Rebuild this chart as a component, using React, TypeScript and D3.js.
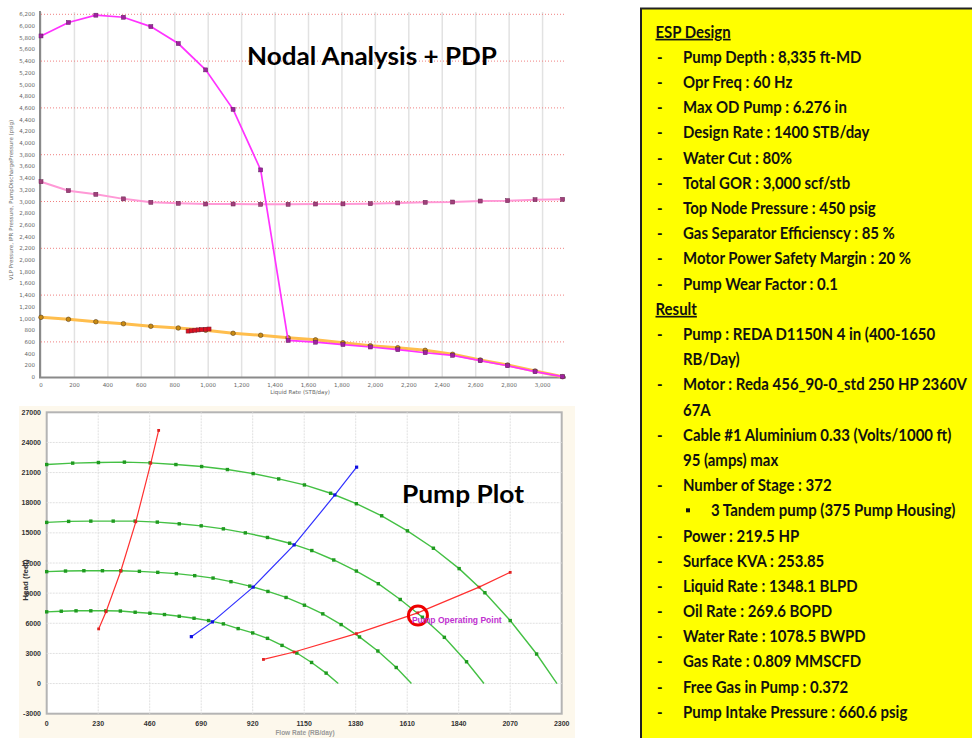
import React from 'react';
import * as d3 from 'd3';

// ---------- Nodal analysis data (Liquid rate STB/day vs pressure psig) ----------
const liquidRates = [0, 164, 328, 493, 657, 821, 985, 1149, 1314, 1478, 1642, 1806, 1970, 2134, 2298, 2462, 2627, 2791, 2955, 3120];
const pumpDischargePressure = [5830, 6060, 6185, 6150, 5990, 5700, 5250, 4575, 3540, 625, 595, 555, 513, 467, 415, 371, 279, 193, 91, 5];
const vlpPressure = [3338, 3185, 3123, 3045, 2986, 2969, 2957, 2957, 2952, 2952, 2957, 2959, 2962, 2975, 2986, 2991, 3008, 3014, 3031, 3037];
const iprPressure = [1020, 986, 945, 911, 867, 838, 800, 747, 713, 672, 635, 586, 535, 501, 456, 388, 291, 205, 103, 5];
const testRates = [880, 900, 920, 940, 960, 985, 1005];
const testPressures = [785, 790, 800, 805, 810, 815, 820];
const nodalXTicks = [0, 200, 400, 600, 800, 1000, 1200, 1400, 1600, 1800, 2000, 2200, 2400, 2600, 2800, 3000];
const nodalRedGrid = [600, 1400, 2200, 3000, 3800, 4600, 5400, 6200];

// ---------- Pump plot data (Rate RB/day vs Head ft) ----------
const headQ1 = [0, 116, 231, 347, 462, 577, 692, 807, 922, 1036, 1151, 1268, 1383, 1496, 1611, 1727, 1842, 1957, 2070, 2188, 2279];
const headH1 = [21800, 21940, 22000, 22040, 21970, 21800, 21600, 21300, 20900, 20370, 19770, 18940, 17900, 16700, 15200, 13470, 11440, 9040, 6270, 2940, 0];
const headQ2 = [0, 98, 197, 297, 395, 494, 592, 690, 789, 887, 986, 1085, 1184, 1282, 1383, 1481, 1579, 1678, 1776, 1875, 1953];
const headH2 = [16040, 16140, 16170, 16170, 16170, 16070, 15900, 15700, 15400, 15000, 14540, 13970, 13240, 12300, 11200, 9940, 8370, 6600, 4600, 2170, 0];
const headQ3 = [0, 84, 166, 249, 331, 414, 496, 579, 661, 743, 823, 907, 988, 1069, 1151, 1233, 1315, 1397, 1479, 1561, 1629];
const headH3 = [11140, 11200, 11230, 11230, 11230, 11170, 11070, 10940, 10740, 10500, 10140, 9700, 9170, 8570, 7800, 6940, 5870, 4640, 3240, 1600, 0];
const headQ4 = [0, 65, 131, 197, 264, 329, 395, 461, 526, 592, 658, 723, 789, 855, 920, 986, 1051, 1117, 1183, 1248, 1302];
const headH4 = [7140, 7200, 7240, 7240, 7240, 7220, 7100, 7000, 6870, 6700, 6500, 6270, 5940, 5470, 5040, 4500, 3800, 3040, 2100, 1040, 0];
const minRateQ = [232, 265, 331, 398, 465, 500];
const minRateH = [5440, 7150, 11200, 16100, 21950, 25200];
const bepQ = [646, 740, 922, 1105, 1287, 1384];
const bepH = [4670, 6140, 9600, 13800, 18770, 21540];
const maxRateQ = [968, 1105, 1383, 1657, 1931, 2070];
const maxRateH = [2400, 3140, 4970, 7040, 9600, 11070];
const operatingQ = [1658];
const operatingH = [6770];
const pumpXTicks = [0, 230, 460, 690, 920, 1150, 1380, 1610, 1840, 2070, 2300];
const pumpYTicks = [-3000, 0, 3000, 6000, 9000, 12000, 15000, 18000, 21000, 24000, 27000];

// ---------- Text panel ----------
const designLines = [
  'Pump Depth : 8,335 ft-MD',
  'Opr Freq : 60 Hz',
  'Max OD Pump : 6.276 in',
  'Design Rate : 1400 STB/day',
  'Water Cut : 80%',
  'Total GOR : 3,000 scf/stb',
  'Top Node Pressure : 450 psig',
  'Gas Separator Efficienscy : 85 %',
  'Motor Power Safety Margin : 20 %',
  'Pump Wear Factor : 0.1',
];
const resultLines: [string, string][] = [
  ['item', 'Pump : REDA D1150N 4 in (400-1650'],
  ['cont', 'RB/Day)'],
  ['item', 'Motor : Reda 456_90-0_std 250 HP 2360V'],
  ['cont', '67A'],
  ['item', 'Cable #1 Aluminium 0.33 (Volts/1000 ft)'],
  ['cont', '95 (amps) max'],
  ['item', 'Number of Stage : 372'],
  ['sub', '3 Tandem pump (375 Pump Housing)'],
  ['item', 'Power : 219.5 HP'],
  ['item', 'Surface KVA : 253.85'],
  ['item', 'Liquid Rate : 1348.1 BLPD'],
  ['item', 'Oil Rate : 269.6 BOPD'],
  ['item', 'Water Rate : 1078.5 BWPD'],
  ['item', 'Gas Rate : 0.809 MMSCFD'],
  ['item', 'Free Gas in Pump : 0.372'],
  ['item', 'Pump Intake Pressure : 660.6 psig'],
];

const lineGen = d3.line<[number, number]>();

function path(xs: number[], ys: number[], sx: (v: number) => number, sy: (v: number) => number) {
  return lineGen(xs.map((x, i) => [sx(x), sy(ys[i])] as [number, number])) || '';
}

function NodalChart() {
  const x = d3.scaleLinear().domain([0, 3130]).range([41, 564.3]);
  const y = d3.scaleLinear().domain([0, 6200]).range([377, 14.3]);
  const yTicks = d3.range(0, 6201, 200);
  const fmt = d3.format(',');
  const tickFont = { fontFamily: 'Verdana, DejaVu Sans, sans-serif', fontSize: 5.5, fill: '#666' };
  return (
    <g>
      {nodalXTicks.map((t) => (
        <line key={'vg' + t} x1={x(t)} x2={x(t)} y1={12} y2={377} stroke="#e2e2e2" strokeWidth={1.5} />
      ))}
      {nodalRedGrid.map((t) => (
        <line key={'rg' + t} x1={41} x2={565} y1={y(t)} y2={y(t)} stroke="#f08080" strokeWidth={1} strokeDasharray="1,2" />
      ))}
      <line x1={40} x2={40} y1={11} y2={378} stroke="#8a8a8a" strokeWidth={2} />
      <line x1={39} x2={566} y1={377.5} y2={377.5} stroke="#8a8a8a" strokeWidth={2} />
      {yTicks.map((t) => (
        <text key={'yt' + t} x={35} y={y(t) + 2} textAnchor="end" {...tickFont}>{fmt(t)}</text>
      ))}
      {nodalXTicks.map((t) => (
        <text key={'xt' + t} x={x(t)} y={387} textAnchor="middle" {...tickFont}>{fmt(t)}</text>
      ))}
      <text x={300} y={394} textAnchor="middle" {...tickFont}>Liquid Rate  (STB/day)</text>
      <text transform="translate(13,200) rotate(-90)" textAnchor="middle" {...tickFont}>
        VLP Pressure, IPR Pressure, PumpDischargePressure (psig)
      </text>

      {/* VLP */}
      <path d={path(liquidRates, vlpPressure, x, y)} fill="none" stroke="#ff99d6" strokeWidth={2} />
      {liquidRates.map((r, i) => (
        <rect key={'vm' + i} x={x(r) - 2} y={y(vlpPressure[i]) - 2} width={4} height={4} fill="#a0407a" stroke="#6a2050" strokeWidth={0.5} />
      ))}
      {/* IPR */}
      <path d={path(liquidRates, iprPressure, x, y)} fill="none" stroke="#ffbe4d" strokeWidth={3} />
      {liquidRates.map((r, i) => (
        <circle key={'im' + i} cx={x(r)} cy={y(iprPressure[i])} r={2.3} fill="#c98a10" stroke="#5a4020" strokeWidth={0.6} />
      ))}
      {/* Pump discharge */}
      <path d={path(liquidRates, pumpDischargePressure, x, y)} fill="none" stroke="#ff33ff" strokeWidth={1.7} />
      {liquidRates.map((r, i) => (
        <rect key={'pm' + i} x={x(r) - 2} y={y(pumpDischargePressure[i]) - 2} width={4} height={4} fill="#a020a0" stroke="#602060" strokeWidth={0.5} />
      ))}
      {/* test points */}
      <path d={path(testRates, testPressures, x, y)} fill="none" stroke="#e01020" strokeWidth={3} />
      {testRates.map((r, i) => (
        <rect key={'tp' + i} x={x(r) - 2} y={y(testPressures[i]) - 2} width={4} height={4} fill="#e01020" stroke="#802030" strokeWidth={0.6} />
      ))}
      <text x={247} y={65} fontFamily="Lato, sans-serif" fontWeight={700} fontSize={24} fill="#000" textLength={250} lengthAdjust="spacingAndGlyphs">Nodal Analysis + PDP</text>
    </g>
  );
}

function PumpChart() {
  const x = d3.scaleLinear().domain([0, 2300]).range([46.7, 561.7]);
  const y = d3.scaleLinear().domain([-3000, 27000]).range([713.7, 412.3]);
  const tickFont = { fontFamily: 'Arial, Liberation Sans, sans-serif', fontSize: 7, fontWeight: 700, fill: '#333' };
  const curves: [number[], number[]][] = [[headQ1, headH1], [headQ2, headH2], [headQ3, headH3], [headQ4, headH4]];
  return (
    <g>
      <rect x={19} y={406} width={556} height={332} fill="#fdf8ec" />
      <rect x={x(0)} y={y(27000)} width={x(2300) - x(0)} height={y(-3000) - y(27000)} fill="#fff" stroke="#b4b4b4" strokeWidth={2} />
      {pumpXTicks.slice(1, -1).map((t) => (
        <line key={'pvx' + t} x1={x(t)} x2={x(t)} y1={y(27000)} y2={y(-3000)} stroke="#e0e0e0" strokeWidth={1} strokeDasharray="2,1" />
      ))}
      {pumpYTicks.slice(1, -1).map((t) => (
        <line key={'pvy' + t} x1={x(0)} x2={x(2300)} y1={y(t)} y2={y(t)} stroke="#e0e0e0" strokeWidth={1} strokeDasharray="2,1" />
      ))}
      {pumpXTicks.map((t) => (
        <text key={'pxt' + t} x={x(t)} y={726} textAnchor="middle" {...tickFont}>{t}</text>
      ))}
      {pumpYTicks.map((t) => (
        <text key={'pyt' + t} x={41} y={y(t) + 2.5} textAnchor="end" {...tickFont}>{t}</text>
      ))}
      <text transform="translate(28,580) rotate(-90)" textAnchor="middle" {...tickFont} fontSize={8}>Head (feet)</text>
      <text x={305} y={735} textAnchor="middle" {...tickFont} fontSize={6.5} fill="#999">Flow Rate (RB/day)</text>

      {curves.map(([qs, hs], ci) => (
        <g key={'hc' + ci}>
          <path d={path(qs, hs, x, y)} fill="none" stroke="#44c044" strokeWidth={1.4} />
          {qs.slice(0, -1).map((q, i) => (
            <rect key={i} x={x(q) - 1.7} y={y(hs[i]) - 1.7} width={3.4} height={3.4} fill="#1f9a1f" />
          ))}
        </g>
      ))}
      <path d={path(minRateQ, minRateH, x, y)} fill="none" stroke="#ff3030" strokeWidth={1.2} />
      {minRateQ.map((q, i) => (
        <rect key={'mn' + i} x={x(q) - 1.4} y={y(minRateH[i]) - 1.4} width={2.8} height={2.8} fill="#e02020" />
      ))}
      <path d={path(bepQ, bepH, x, y)} fill="none" stroke="#3030ff" strokeWidth={1.2} />
      {bepQ.map((q, i) => (
        <rect key={'bp' + i} x={x(q) - 1.6} y={y(bepH[i]) - 1.6} width={3.2} height={3.2} fill="#1010e0" />
      ))}
      <path d={path(maxRateQ, maxRateH, x, y)} fill="none" stroke="#ff3030" strokeWidth={1.2} />
      {maxRateQ.map((q, i) => (
        <rect key={'mx' + i} x={x(q) - 1.4} y={y(maxRateH[i]) - 1.4} width={2.8} height={2.8} fill="#e02020" />
      ))}
      {operatingQ.map((q, i) => (
        <g key={'op' + i}>
          <circle cx={x(q)} cy={y(operatingH[i])} r={9.5} fill="none" stroke="#ee0000" strokeWidth={3} />
          <text x={x(q) - 6} y={y(operatingH[i]) + 7} fontFamily="Arial, Liberation Sans, sans-serif" fontWeight={700} fontSize={8.5} fill="#c030d0">
            Pump Operating Point
          </text>
        </g>
      ))}
      <text x={402} y={503} fontFamily="Lato, sans-serif" fontWeight={700} fontSize={24} fill="#000" textLength={122} lengthAdjust="spacingAndGlyphs">Pump Plot</text>
    </g>
  );
}

function InfoPanel() {
  const step = 25.19;
  const base = (i: number) => 31.7 + i * step + 6;
  const sx = 0.89;
  const font = { fontFamily: 'Lato, sans-serif', fontWeight: 700, fontSize: 16.8, fill: '#111' };
  const T = (key: string, x: number, yy: number, txt: string, underline = false) => (
    <text key={key} transform={`translate(${x},${yy}) scale(${sx},1)`} x={0} y={0} {...font} textDecoration={underline ? 'underline' : undefined}>
      {txt}
    </text>
  );
  const rows: React.ReactNode[] = [];
  let i = 0;
  rows.push(T('h1', 655.5, base(i), 'ESP Design', true));
  i++;
  designLines.forEach((t) => {
    rows.push(T('d' + i, 657, base(i), '-'));
    rows.push(T('dt' + i, 683, base(i), t));
    i++;
  });
  rows.push(T('h2', 655.5, base(i), 'Result', true));
  i++;
  resultLines.forEach(([kind, t]) => {
    if (kind === 'item') rows.push(T('r' + i, 657, base(i), '-'));
    if (kind === 'sub') rows.push(<rect key={'rb' + i} x={686} y={base(i) - 8} width={4} height={4} fill="#111" />);
    rows.push(T('rt' + i, kind === 'sub' ? 711 : 683, base(i), t));
    i++;
  });
  return (
    <g>
      <rect x={641} y={8.5} width={340} height={740} fill="#ffff00" stroke="#222" strokeWidth={2} />
      {rows}
    </g>
  );
}

export default function App() {
  return (
    <svg width={972} height={738} style={{ position: 'absolute', left: 0, top: 0, background: '#fff' }}>
      <rect x={0} y={0} width={972} height={738} fill="#fff" />
      <NodalChart />
      <PumpChart />
      <InfoPanel />
    </svg>
  );
}
